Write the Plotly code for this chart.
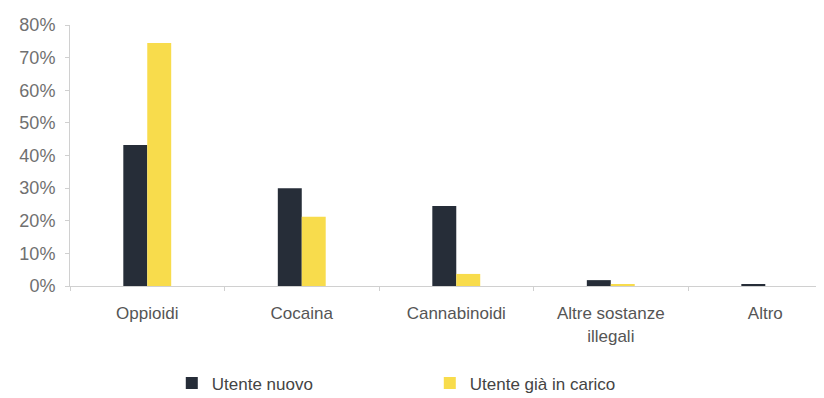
import plotly.graph_objects as go

categories = ["Oppioidi", "Cocaina", "Cannabinoidi", "Altre sostanze<br>illegali", "Altro"]
utente_nuovo = [0.432, 0.300, 0.245, 0.018, 0.006]
utente_in_carico = [0.745, 0.212, 0.037, 0.005, 0.0]
series_names = ["Utente nuovo", "Utente già in carico"]
y_ticks = [0, 0.1, 0.2, 0.3, 0.4, 0.5, 0.6, 0.7, 0.8]

fig = go.Figure()
fig.add_trace(go.Bar(x=categories, y=utente_nuovo, name=series_names[0],
                     marker=dict(color="#262d38", line=dict(width=0))))
fig.add_trace(go.Bar(x=categories, y=utente_in_carico, name=series_names[1],
                     marker=dict(color="#f8dc4c", line=dict(width=0))))

fig.update_layout(
    width=816, height=390,
    margin=dict(l=62, r=0, t=17, b=112, autoexpand=False),
    paper_bgcolor="white", plot_bgcolor="white",
    barmode="group", bargap=0.69, bargroupgap=0,
    font=dict(family="Liberation Sans, Arial, sans-serif", color="#444444", size=17),
    showlegend=True,
    legend=dict(orientation="h", x=0.135, xanchor="left", y=-0.373, yanchor="middle",
                entrywidth=213, entrywidthmode="pixels",
                font=dict(size=17, color="#444444"), itemwidth=30),
    xaxis=dict(type="category", range=[-0.5, 4.38], showline=True, linecolor="#d0d0d0",
               linewidth=1, ticks="outside", tickson="boundaries", ticklen=4,
               tickcolor="#d0d0d0", showgrid=False, automargin=False,
               ticklabelstandoff=12,
               tickfont=dict(size=17, color="#555555")),
    yaxis=dict(range=[0, 0.8], tickvals=y_ticks, tickformat=".0%", showline=True,
               linecolor="#d0d0d0", linewidth=1, ticks="outside", ticklen=4,
               tickcolor="#d0d0d0", showgrid=False, zeroline=False, automargin=False,
               ticklabelstandoff=6,
               tickfont=dict(size=18, color="#707070")),
)

fig.write_html("out.html")
